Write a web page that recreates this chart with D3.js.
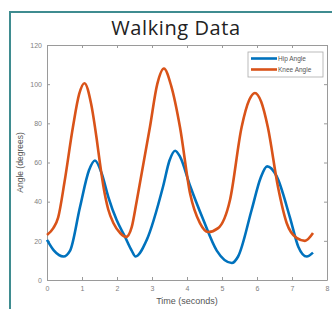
<!DOCTYPE html>
<html>
<head>
<meta charset="utf-8">
<script src="https://cdn.jsdelivr.net/npm/d3@7"></script>
<style>
  body { margin: 0; background: #fff; }
  svg { display: block; }
</style>
</head>
<body>
<div id="chart"></div>
<script>
// Knee angle keyframes (seconds, degrees)
const kneeTime = [0, 0.18, 0.32, 0.5, 0.74, 0.92, 1.07, 1.26, 1.42, 1.51, 1.61, 1.75, 1.9, 2.09, 2.26, 2.42, 2.56, 2.94, 3.15, 3.34, 3.55, 3.8, 4.09, 4.37, 4.6, 4.89, 5.23, 5.56, 5.78, 5.94, 6.12, 6.31, 6.6, 6.85, 7.13, 7.37, 7.6];
const kneeAngle = [23, 26.5, 32, 50, 78, 95, 100.5, 90, 72, 60, 48, 36, 29, 24, 22, 27, 40, 78, 100, 108, 99, 78, 44, 29, 24.5, 26.5, 41, 78, 92, 95.5, 91, 78, 47.5, 29, 21.5, 20, 24];

// Hip angle keyframes
const hipTime = [0, 0.2, 0.47, 0.66, 0.94, 1.2, 1.37, 1.56, 1.75, 1.99, 2.23, 2.42, 2.53, 2.85, 3.32, 3.5, 3.66, 3.8, 4.09, 4.46, 4.85, 5.28, 5.46, 5.85, 6.1, 6.29, 6.56, 6.94, 7.18, 7.42, 7.6];
const hipAngle = [20.5, 15, 12, 15, 37, 56, 61, 54.5, 42.5, 30.6, 22, 15, 12, 20.5, 48, 61, 66, 63, 48, 31, 15, 8.7, 12, 36, 52, 58, 53, 32, 17, 12, 14];

const xTicks = [0, 1, 2, 3, 4, 5, 6, 7, 8];
const yTicks = [0, 20, 40, 60, 80, 100, 120];

const seriesNames = ["Hip Angle", "Knee Angle"];
const seriesColors = ["#0072BD", "#D95319"];

const width = 332, height = 309;
const margin = { top: 45, right: 5, bottom: 29, left: 47 };

const svg = d3.select("#chart").append("svg")
  .attr("width", width)
  .attr("height", height);

// Outer teal frame
svg.append("path")
  .attr("d", `M10,${height + 5} L10,12 L${width + 5},12`)
  .attr("fill", "none")
  .attr("stroke", "#3f8c90")
  .attr("stroke-width", 2);

const x = d3.scaleLinear().domain([0, 8]).range([margin.left, width - margin.right]);
const y = d3.scaleLinear().domain([0, 120]).range([height - margin.bottom, margin.top]);

// Title
svg.append("text")
  .attr("x", 176)
  .attr("y", 35)
  .attr("text-anchor", "middle")
  .attr("font-family", "'Open Sans', 'Noto Sans', sans-serif")
  .attr("font-size", 20)
  .attr("letter-spacing", 0.6)
  .attr("fill", "#222")
  .text("Walking Data");

// Axes (MATLAB style, ticks inward, box on)
const axisColor = "#9a9a9a";
const tickFont = "'Liberation Sans', Arial, sans-serif";

const styleAxis = g => {
  g.select(".domain").attr("stroke", axisColor);
  g.selectAll(".tick line").attr("stroke", axisColor);
  g.selectAll(".tick text").attr("fill", "#808080").attr("font-family", tickFont).attr("font-size", 7);
};

svg.append("g")
  .attr("transform", `translate(0,${y(0)})`)
  .call(d3.axisBottom(x).tickValues(xTicks).tickSize(-3).tickPadding(6).tickSizeOuter(0))
  .call(styleAxis);

svg.append("g")
  .attr("transform", `translate(0,${y(120)})`)
  .call(d3.axisTop(x).tickValues(xTicks).tickSize(-3).tickFormat("").tickSizeOuter(0))
  .call(styleAxis);

svg.append("g")
  .attr("transform", `translate(${x(0)},0)`)
  .call(d3.axisLeft(y).tickValues(yTicks).tickSize(-3).tickPadding(5).tickSizeOuter(0))
  .call(styleAxis);

svg.append("g")
  .attr("transform", `translate(${x(8)},0)`)
  .call(d3.axisRight(y).tickValues(yTicks).tickSize(-3).tickFormat("").tickSizeOuter(0))
  .call(styleAxis);

// Axis labels
svg.append("text")
  .attr("x", x(4))
  .attr("y", 304)
  .attr("text-anchor", "middle")
  .attr("font-family", tickFont)
  .attr("font-size", 9)
  .attr("fill", "#555")
  .text("Time (seconds)");

svg.append("text")
  .attr("transform", `translate(23,${y(60)}) rotate(-90)`)
  .attr("text-anchor", "middle")
  .attr("font-family", tickFont)
  .attr("font-size", 8.5)
  .attr("fill", "#555")
  .text("Angle (degrees)");

// Lines
const line = d3.line()
  .x(d => x(d[0]))
  .y(d => y(d[1]))
  .curve(d3.curveMonotoneX);

const series = [
  d3.zip(hipTime, hipAngle),
  d3.zip(kneeTime, kneeAngle)
];

svg.append("g")
  .selectAll("path")
  .data(series)
  .join("path")
    .attr("d", line)
    .attr("fill", "none")
    .attr("stroke", (d, i) => seriesColors[i])
    .attr("stroke-width", 2.6)
    .attr("stroke-linejoin", "round");

// Legend
const legend = svg.append("g").attr("transform", "translate(248,52)");

legend.append("rect")
  .attr("width", 75)
  .attr("height", 25)
  .attr("fill", "#fff")
  .attr("stroke", "#aaa")
  .attr("stroke-width", 0.8);

seriesNames.forEach((name, i) => {
  const ly = 6.5 + i * 11;
  legend.append("line")
    .attr("x1", 3).attr("x2", 29)
    .attr("y1", ly).attr("y2", ly)
    .attr("stroke", seriesColors[i])
    .attr("stroke-width", 2.6);
  legend.append("text")
    .attr("x", 30)
    .attr("y", ly + 2.5)
    .attr("font-family", tickFont)
    .attr("font-size", 6.5)
    .attr("fill", "#555")
    .text(name);
});
</script>
</body>
</html>
